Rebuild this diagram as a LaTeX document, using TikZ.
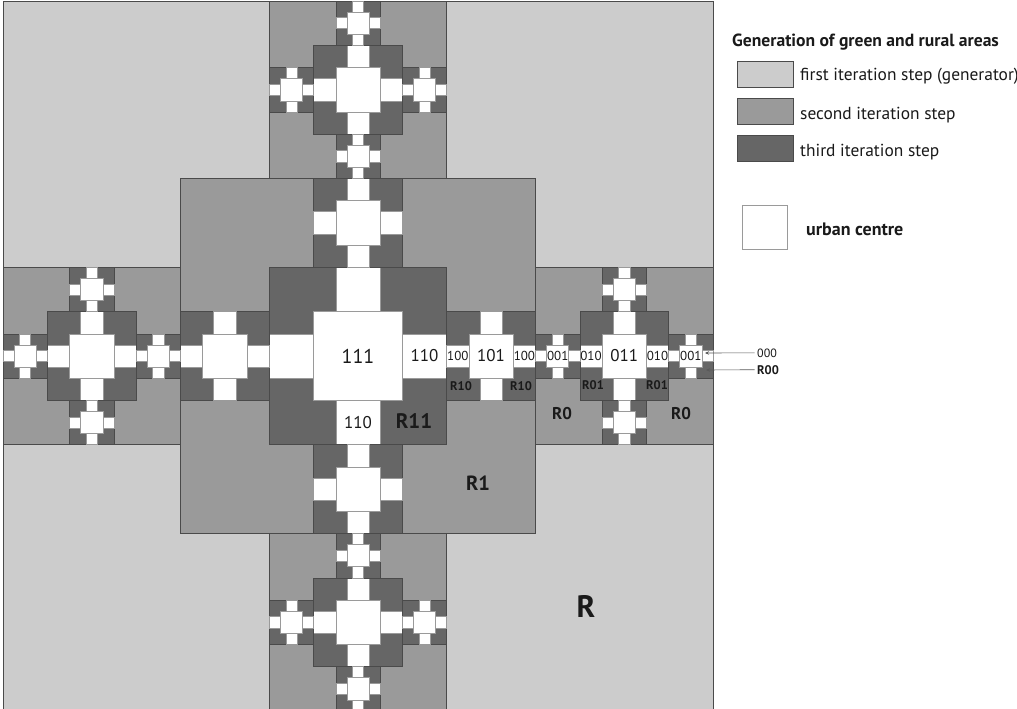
\documentclass[tikz,border=0pt]{standalone}
\usepackage{fontspec}
\setmainfont{PT Sans}
\usetikzlibrary{arrows.meta}
\definecolor{lev1}{HTML}{CCCCCC}
\definecolor{lev2}{HTML}{9A9A9A}
\definecolor{lev3}{HTML}{666666}
\definecolor{edge}{HTML}{4A4A4A}
\definecolor{edgew}{HTML}{9A9A9A}
\definecolor{ink}{HTML}{1A1A1A}
\definecolor{wire}{HTML}{5A5A5A}
\tikzset{
  sq/.style={draw=edge, line width=0.6pt},
  cell0/.style={sq, fill=lev1},
  cell1/.style={sq, fill=lev2},
  cell2/.style={sq, fill=lev3},
  cell3/.style={draw=edgew, line width=0.6pt, fill=white},
  lab/.style={text=ink, inner sep=0pt},
  labs/.style={lab, font=\fontsize{13}{13}\selectfont},
  labm/.style={lab, font=\fontsize{17}{17}\selectfont},
  labl/.style={lab, font=\fontsize{20}{20}\selectfont},
  tagr/.style={lab, font=\bfseries\fontsize{#1}{#1}\selectfont},
  key/.style={draw=edge, line width=0.7pt, minimum width=56pt, minimum height=26pt, inner sep=0pt},
  keyt/.style={text=ink, inner sep=0pt, anchor=base west, font=\fontsize{17.4}{17.4}\selectfont},
  ptr/.style={draw=wire, line width=0.6pt, -{Stealth[length=4pt, width=3.5pt]}},
}
% one cell: centre x, centre y, side, iteration step
\newcommand{\gencell}[4]{%
  \begingroup
  \pgfmathsetmacro\cx{#1}\pgfmathsetmacro\cy{#2}%
  \pgfmathsetmacro\cs{#3}\pgfmathtruncatemacro\cl{#4}%
  \pgfmathsetmacro\hs{\cs/2}%
  \draw[cell\cl] ({\cx-\hs},{\cy-\hs}) rectangle ({\cx+\hs},{\cy+\hs});
  \ifnum\cl<3\relax
    \pgfmathtruncatemacro\nl{\cl+1}%
    \pgfmathsetmacro\ns{\cs/4}%
    \pgfmathsetmacro\nd{3*\cs/8}%
    \gencell{\cx}{\cy}{\hs}{\nl}%
    \gencell{\cx+\nd}{\cy}{\ns}{\nl}%
    \gencell{\cx-\nd}{\cy}{\ns}{\nl}%
    \gencell{\cx}{\cy+\nd}{\ns}{\nl}%
    \gencell{\cx}{\cy-\nd}{\ns}{\nl}%
  \fi
  \endgroup}

\begin{document}
\begin{tikzpicture}[x=1pt, y=-1pt]
  \useasboundingbox (0,0) rectangle (1017,709);
  \fill[white] (0,0) rectangle (1017,709);

  \gencell{358}{356}{710}{0}

  % codes of the urban centres
  \node[labl] (c111) at (358,356) {111};
  \node[labm] (c110a) at (424.6,356) {110};
  \node[labm] (c110b) at (358,422.6) {110};
  \node[labm] (c101) at (491.1,356) {101};
  \node[labs] (c100a) at (457.8,356) {100};
  \node[labs] (c100b) at (524.4,356) {100};
  \node[labs] (c001a) at (557.7,356) {001};
  \node[labs] (c010a) at (591,356) {010};
  \node[labm] (c011) at (624.3,356) {011};
  \node[labs] (c010b) at (657.5,356) {010};
  \node[labs] (c001b) at (690.8,356) {001};

  % rural areas
  \node[tagr=12.5] (r10a) at (461,386) {R10};
  \node[tagr=12.5] (r10b) at (521,386) {R10};
  \node[tagr=12.5] (r01a) at (593,385) {R01};
  \node[tagr=12.5] (r01b) at (657,385) {R01};
  \node[tagr=17] (r0a) at (562,414) {R0};
  \node[tagr=17] (r0b) at (681,414) {R0};
  \node[tagr=21] (r11) at (414,421) {R11};
  \node[tagr=20.5] (r1) at (478,483) {R1};
  \node[tagr=31] (r) at (586,606) {R};

  % pointers at the smallest cells
  \node[keyt, font=\fontsize{12}{12}\selectfont, inner sep=2.5pt] (t000) at (754.5,357) {000};
  \node[keyt, font=\bfseries\fontsize{12.5}{12.5}\selectfont, inner sep=2.5pt] (tr00) at (754.5,374) {R00};
  \coordinate (p000) at (705,353);
  \coordinate (pr00) at (706,370);
  \draw[ptr] (t000) -- (p000);
  \draw[ptr] (tr00) -- (pr00);

  % legend
  \node[keyt, font=\bfseries\fontsize{17.6}{17.6}\selectfont] (ttl) at (732,47) {Generation of green and rural areas};
  \node[key, fill=lev1] (k1) at (765,74) {};
  \node[key, fill=lev2] (k2) at (765,111) {};
  \node[key, fill=lev3] (k3) at (765,148) {};
  \node[keyt] (t1) at (800,81) {first iteration step (generator)};
  \node[keyt] (t2) at (800,119) {second iteration step};
  \node[keyt] (t3) at (800,156) {third iteration step};
  \node[key, draw=edgew, fill=white, minimum width=45pt, minimum height=44pt] (k4) at (764.5,227.5) {};
  \node[keyt, font=\bfseries\fontsize{18}{18}\selectfont] (t4) at (806,235) {urban centre};
\end{tikzpicture}
\end{document}
